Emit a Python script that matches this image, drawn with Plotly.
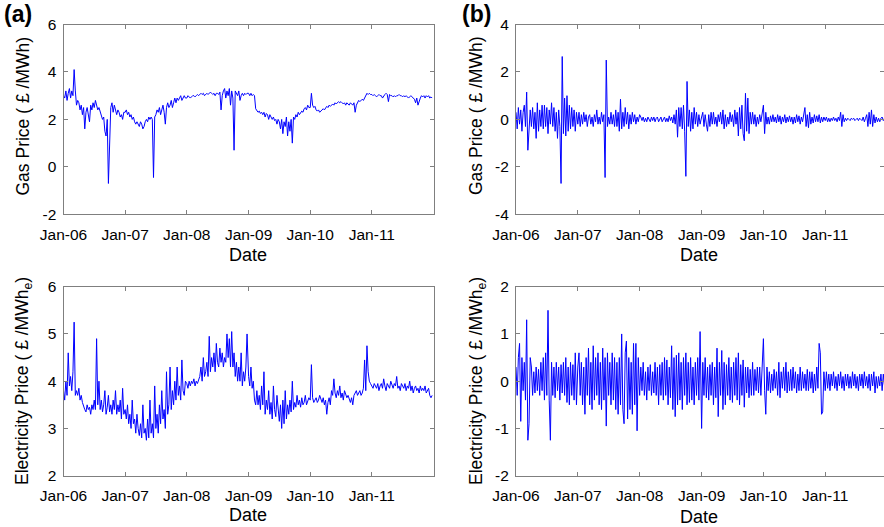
import pandas as pd
import plotly.graph_objects as go

FONT = "Liberation Sans, Arial, sans-serif"
W, H = 884, 527

YEARS = [2006, 2007, 2008, 2009, 2010, 2011]
X_TICK_DATES = ["2006-01-01", "2007-01-01", "2008-01-01", "2009-01-01", "2010-01-01", "2011-01-01"]
X_TICK_LABELS = ["Jan-06", "Jan-07", "Jan-08", "Jan-09", "Jan-10", "Jan-11"]

# ---------------- (a) Gas price, weekly readings (GBP/MWh) ----------------
gas_a_2006 = [3.0, 2.9, 3.2, 2.8, 3.1, 3.3, 2.9, 3.2, 3.0, 4.1, 3.2, 2.6, 2.8, 2.7, 2.4, 2.6, 2.2, 2.5,
              1.6, 2.3, 2.5, 2.1, 1.9, 2.6, 2.4, 2.7, 2.5, 2.8, 2.6, 2.4, 2.5, 2.3, 2.2, 2.0, 2.1,
              1.5, 1.3, 2.0, -0.7, 1.5, 2.5, 2.7, 2.3, 2.6, 2.4, 2.2, 2.4, 2.3, 2.1, 2.2, 2.0, 2.3]
gas_a_2007 = [2.3, 2.4, 2.2, 2.3, 2.1, 2.2, 2.0, 2.1, 1.9, 1.8, 1.9, 1.8, 1.7, 1.9, 1.8, 1.6, 1.7, 1.9,
              2.0, 1.9, 2.1, 2.0, 2.1, 2.0, -0.45, 2.1, 2.2, 2.4, 2.3, 2.5, 2.2, 2.4, 2.6, 2.3, 1.8,
              2.5, 2.7, 2.5, 2.6, 2.8, 2.5, 2.7, 2.9, 2.7, 2.9, 2.8, 2.9, 3.0, 2.8, 2.9, 3.0, 2.9]
gas_a_2008 = [2.9, 3.0, 2.95, 2.9, 2.95, 3.0, 3.0, 2.95, 3.0, 3.05, 3.0, 3.05, 3.1, 3.05, 3.1, 3.0, 3.05, 3.1,
              3.05, 3.1, 3.15, 3.1, 3.05, 3.1, 3.0, 3.1, 3.1, 3.05, 3.15, 2.4, 3.0, 3.2, 3.3, 2.9, 3.2,
              3.0, 3.3, 2.6, 3.2, 2.9, 0.7, 3.2, 3.1, 3.0, 3.2, 2.8, 3.0, 3.1, 3.0, 3.1, 3.05, 3.1]
gas_a_2009 = [3.1, 3.0, 3.1, 3.0, 3.05, 3.0, 2.45, 2.35, 2.3, 2.35, 2.25, 2.3, 2.2, 2.3, 2.1, 2.25, 2.2, 2.0,
              2.2, 2.1, 2.0, 2.1, 1.95, 2.0, 1.8, 2.0, 1.9, 1.6, 2.0, 1.4, 1.9, 1.7, 2.1, 1.3, 1.9,
              1.5, 2.0, 1.0, 2.1, 2.0, 2.2, 2.1, 2.3, 2.2, 2.3, 2.35, 2.3, 2.45, 2.5, 2.4, 2.6, 2.5]
gas_a_2010 = [2.5, 3.1, 2.6, 2.5, 2.55, 2.4, 2.35, 2.4, 2.3, 2.35, 2.4, 2.45, 2.4, 2.5, 2.55, 2.5, 2.6, 2.55,
              2.6, 2.65, 2.6, 2.7, 2.65, 2.7, 2.75, 2.7, 2.75, 2.7, 2.65, 2.7, 2.6, 2.7, 2.65, 2.6, 2.7,
              2.65, 2.6, 2.7, 2.3, 2.6, 2.7, 2.8, 2.75, 2.8, 2.85, 2.8, 2.9, 3.0, 3.1, 3.05, 3.1, 3.05]
gas_a_2011 = [3.05, 3.0, 3.05, 3.0, 2.95, 3.0, 3.05, 3.0, 3.0, 2.9, 3.0, 3.05, 3.1, 3.05, 2.75, 3.05, 3.0, 3.0,
              2.95, 3.0, 2.95, 3.0, 3.0, 3.05, 3.0, 3.0, 2.95, 3.0, 2.95, 3.0, 2.95, 2.9, 2.95, 3.0, 2.95,
              2.9, 2.85, 2.7, 2.9, 2.6, 2.8, 2.9, 3.0, 2.95, 3.0, 2.9, 3.0, 2.95, 3.0, 2.9, 2.95, 2.9]

# ---------------- (a) Electricity price, weekly readings ----------------
elec_a_2006 = [3.8, 3.6, 4.0, 3.7, 4.6, 3.9, 4.1, 3.8, 4.2, 5.25, 3.7, 3.8, 3.7, 3.85, 3.6, 3.7, 3.55, 3.45,
               3.4, 3.35, 3.5, 3.4, 3.45, 3.3, 3.5, 3.4, 3.6, 3.4, 4.9, 3.5, 4.0, 3.4, 3.6, 3.35, 3.5,
               3.8, 3.3, 3.45, 3.7, 3.35, 3.5, 3.3, 3.6, 3.4, 3.8, 3.3, 3.5, 3.35, 3.6, 3.2, 3.85, 3.3]
elec_a_2007 = [3.4, 3.2, 3.5, 3.1, 3.3, 3.0, 3.6, 3.1, 3.2, 2.9, 3.3, 3.0, 2.85, 3.1, 2.8, 3.5, 2.9, 3.0,
               2.75, 3.2, 2.8, 3.6, 2.9, 3.1, 2.8, 3.9, 3.0, 3.3, 2.9, 3.5, 3.1, 3.8, 3.2, 3.4, 3.0,
               4.2, 3.3, 3.5, 4.3, 3.4, 3.8, 3.5, 4.0, 3.6, 4.3, 3.7, 3.9, 3.6, 4.45, 3.8, 3.7, 4.0]
elec_a_2008 = [3.95, 3.85, 4.0, 3.9, 4.0, 3.95, 4.05, 3.9, 4.0, 3.95, 4.05, 4.1, 4.3, 4.0, 4.5, 4.1, 4.2, 4.4,
               4.1, 4.95, 4.2, 4.5, 4.3, 4.6, 4.2, 4.8, 4.4, 4.3, 4.7, 4.4, 4.6, 4.3, 4.5, 4.4, 5.0,
               4.5, 4.9, 4.3, 5.05, 4.3, 4.6, 4.1, 4.4, 4.0, 4.3, 4.0, 4.6, 3.9, 4.2, 4.0, 4.3, 5.0]
elec_a_2009 = [4.1, 3.9, 4.3, 3.85, 4.0, 3.6, 3.5, 3.8, 3.5, 3.7, 3.4, 3.9, 3.5, 4.2, 3.3, 3.6, 3.4, 3.8,
               3.3, 3.55, 3.2, 3.9, 3.4, 3.25, 3.7, 3.3, 3.15, 3.5, 3.0, 3.6, 3.1, 3.8, 3.2, 3.5, 3.3,
               3.6, 3.35, 4.0, 3.4, 3.55, 3.45, 3.7, 3.5, 3.6, 3.45, 3.65, 3.5, 3.55, 3.7, 3.5, 3.6, 3.65]
elec_a_2010 = [3.6, 4.35, 3.65, 3.55, 3.6, 3.65, 3.55, 3.6, 3.7, 3.6, 3.55, 3.65, 3.5, 3.6, 3.3, 3.55, 3.65, 3.5,
               3.8, 3.7, 4.05, 3.75, 3.65, 3.8, 3.7, 3.9, 3.65, 3.75, 3.6, 3.8, 3.7, 3.65, 3.7, 3.6, 3.55,
               3.65, 3.5, 3.7, 3.75, 3.8, 3.7, 3.75, 3.8, 3.7, 3.75, 3.85, 4.45, 3.8, 4.75, 4.2, 4.0, 3.95]
elec_a_2011 = [3.9, 3.85, 3.95, 3.9, 3.85, 3.95, 3.8, 3.9, 3.95, 3.85, 4.05, 3.9, 3.8, 3.95, 3.9, 3.85, 4.0, 3.9,
               3.85, 3.95, 3.9, 4.1, 3.85, 3.9, 3.8, 3.95, 3.9, 3.85, 3.95, 3.8, 3.9, 3.85, 4.0, 3.8, 3.9,
               3.75, 3.85, 3.9, 3.8, 3.85, 3.75, 3.9, 3.8, 3.85, 3.8, 3.9, 3.75, 3.8, 3.85, 3.7, 3.65, 3.7]

# ---------------- (b) Gas price changes, weekly readings ----------------
gas_b_2006 = [0.3, -0.4, 0.5, -0.2, 0.4, -0.5, 0.3, 0.6, -0.3, 1.15, -1.3, -0.6, 0.4, -0.3, 0.5, -0.4, 0.3, -0.8,
              0.7, -0.5, 0.4, -0.3, 0.6, -0.4, 0.6, -0.3, 0.5, -0.6, 0.4, -0.2, 0.7, -0.3, 0.5, -0.5, 0.3,
              -0.8, 0.4, -0.3, -2.7, 2.65, -0.6, 0.9, -0.7, 1.0, -0.5, 0.6, -0.4, 0.5, -0.3, 0.4, -0.5, 0.3]
gas_b_2007 = [-0.2, 0.3, -0.3, 0.2, -0.2, 0.3, -0.1, 0.2, -0.3, 0.1, 0.2, -0.2, 0.1, -0.3, 0.2, -0.1, 0.4, -0.2,
              0.1, -0.2, 0.3, -0.1, 0.2, -2.45, 2.5, -0.3, 0.1, -0.2, 0.3, -0.2, 0.2, -0.3, 0.4, -0.3, 0.3,
              -0.5, 0.85, -0.4, 0.3, -0.3, 0.5, -0.2, 0.3, -0.4, 0.2, -0.2, 0.3, -0.1, 0.2, -0.2, 0.1, -0.1]
gas_b_2008 = [0.2, 0.1, -0.05, 0.1, -0.1, 0.05, -0.1, 0.1, 0.0, -0.1, 0.1, -0.05, 0.1, -0.1, 0.05, 0.1, -0.1, 0.05,
              0.1, -0.1, 0.0, 0.1, -0.1, 0.05, -0.1, 0.15, -0.05, 0.1, -0.15, 0.2, -0.2, 0.4, -0.75, 0.5, -0.3,
              0.5, -0.4, 0.6, -0.5, -2.4, 1.6, -0.3, 0.4, -0.5, 0.3, -0.4, 0.5, -0.2, 0.3, -0.3, 0.2, -0.2]
gas_b_2009 = [0.1, 0.3, -0.3, 0.2, -0.2, -0.5, 0.2, -0.3, 0.3, -0.2, 0.3, -0.2, 0.1, -0.3, 0.2, -0.1, 0.3, -0.2,
              0.4, -0.4, 0.2, -0.3, 0.1, -0.2, 0.3, -0.1, 0.2, -0.3, 0.4, -0.2, 0.3, -0.7, 0.5, -0.4, 0.6,
              -0.6, -0.9, 1.1, -0.5, 0.9, -0.6, 0.3, -0.2, 0.3, -0.2, 0.2, -0.3, 0.1, -0.2, 0.2, -0.1, 0.3]
gas_b_2010 = [0.6, -0.6, 0.3, -0.2, 0.1, -0.2, 0.15, -0.1, 0.2, -0.1, 0.1, -0.15, 0.2, -0.1, 0.15, -0.2, 0.1, -0.1,
              0.2, -0.15, 0.1, -0.1, 0.15, -0.1, 0.1, -0.2, 0.1, -0.15, 0.2, -0.1, 0.15, -0.2, 0.1, -0.1, 0.2,
              0.5, -0.3, 0.2, -0.35, 0.3, -0.2, 0.1, -0.15, 0.2, -0.1, 0.15, -0.1, 0.2, -0.15, 0.1, -0.1, 0.1]
gas_b_2011 = [-0.05, 0.1, -0.1, 0.05, -0.1, 0.05, -0.05, 0.1, -0.05, 0.05, -0.1, 0.1, -0.05, 0.3, -0.3, 0.2, -0.1, 0.05,
              -0.05, 0.05, 0.0, -0.05, 0.05, 0.0, 0.05, -0.05, 0.0, 0.05, -0.05, 0.05, 0.0, -0.05, 0.1, -0.1, 0.05,
              0.2, -0.3, 0.3, -0.2, 0.4, -0.3, 0.2, -0.15, 0.1, -0.1, 0.05, -0.1, 0.05, 0.1, -0.05, 0.05, -0.1]

# ---------------- (b) Electricity price changes, weekly readings ----------------
elec_b_2006 = [0.3, -0.3, 0.5, 0.8, -0.85, 0.5, -0.2, 0.4, -0.4, 1.3, -1.25, -0.9, 0.5, 0.3, -0.3, 0.2, -0.25, 0.3,
               -0.2, 0.25, -0.3, 0.4, -0.2, 0.5, -0.4, 0.6, -0.3, 1.5, -0.4, -1.25, 0.4, -0.3, 0.3, -0.35, 0.4,
               -0.2, 0.3, -0.4, 0.35, -0.25, 0.4, -0.3, 0.5, -0.45, 0.3, -0.5, 0.4, -0.3, 0.35, -0.4, 0.6, -0.5]
elec_b_2007 = [0.3, 0.6, -0.3, 0.4, -0.5, 0.3, -0.7, 0.5, -0.3, 0.7, -0.5, 0.4, -0.6, 0.75, -0.4, 0.5, -0.3, 0.6,
               -0.5, 0.4, -0.6, 0.7, -0.4, 0.5, -0.95, 0.6, -0.3, 0.4, -0.5, 0.6, -0.4, 0.5, -0.6, 0.4, -0.7,
               0.5, -0.5, 1.0, -0.6, -0.9, 0.6, 0.85, -0.8, 0.5, -0.6, 0.4, -0.7, 0.8, -0.5, 0.8, -1.05, 0.5]
elec_b_2008 = [-0.3, 0.3, -0.2, 0.4, -0.3, 0.2, -0.4, 0.3, -0.2, 0.35, -0.3, 0.2, -0.25, 0.4, -0.3, 0.3, -0.5, 0.35,
               -0.3, 0.4, -0.4, 0.5, -0.3, 0.45, -0.5, 0.3, -0.35, 0.75, -0.6, 0.5, -0.75, 0.55, -0.5, 0.6, -0.4,
               0.4, -0.6, 0.5, -0.3, 0.6, -0.5, 0.4, -0.45, 0.5, -0.4, 0.3, -0.5, 0.4, -0.3, 0.5, -0.4, 1.05]
elec_b_2009 = [-1.0, 0.4, -0.3, 0.5, -0.35, 0.3, -0.4, 0.35, -0.3, 0.4, -0.5, 0.3, -0.35, 0.7, -0.75, 0.4, -0.3, 0.65,
               -0.6, 0.4, -0.5, 0.35, -0.3, 0.5, -0.4, 0.3, -0.45, 0.4, -0.3, 0.5, -0.4, 0.6, -0.5, 0.35, -0.3,
               0.45, -0.55, 0.3, -0.25, 0.3, -0.35, 0.25, -0.3, 0.4, -0.3, 0.25, -0.2, 0.3, -0.25, 0.3, -0.3, 0.2]
elec_b_2010 = [0.9, -0.2, -0.7, 0.3, -0.2, 0.2, -0.25, 0.15, -0.2, 0.25, -0.15, 0.2, -0.3, 0.4, -0.35, 0.2, -0.15, 0.3,
               -0.2, 0.4, -0.25, 0.2, -0.2, 0.25, -0.2, 0.3, -0.15, 0.2, -0.25, 0.15, -0.2, 0.3, -0.2, 0.2, -0.15,
               0.15, -0.2, 0.25, -0.2, 0.2, -0.15, 0.2, -0.25, 0.15, -0.2, 0.3, -0.15, 0.8, 0.6, -0.7, -0.65, 0.2]
elec_b_2011 = [-0.2, 0.2, -0.15, 0.15, -0.2, 0.15, -0.1, 0.2, -0.15, 0.1, -0.2, 0.15, -0.1, 0.2, -0.15, 0.1, -0.2, 0.15,
               -0.1, 0.15, -0.15, 0.1, -0.15, 0.2, -0.1, 0.15, -0.15, 0.1, -0.2, 0.15, -0.1, 0.15, -0.15, 0.2, -0.1,
               0.1, -0.15, 0.15, -0.2, 0.15, -0.1, 0.2, -0.25, 0.1, -0.15, 0.1, -0.1, 0.15, -0.2, 0.15, -0.1, 0.1]


def weekly_series(year_blocks):
    xs, ys = [], []
    for year, vals in zip(YEARS, year_blocks):
        start = pd.Timestamp(year=year, month=1, day=1)
        for i, v in enumerate(vals):
            xs.append((start + pd.Timedelta(days=7 * i)).strftime("%Y-%m-%d"))
            ys.append(v)
    return xs, ys


series = [
    ("x", "y", [gas_a_2006, gas_a_2007, gas_a_2008, gas_a_2009, gas_a_2010, gas_a_2011]),
    ("x2", "y2", [gas_b_2006, gas_b_2007, gas_b_2008, gas_b_2009, gas_b_2010, gas_b_2011]),
    ("x3", "y3", [elec_a_2006, elec_a_2007, elec_a_2008, elec_a_2009, elec_a_2010, elec_a_2011]),
    ("x4", "y4", [elec_b_2006, elec_b_2007, elec_b_2008, elec_b_2009, elec_b_2010, elec_b_2011]),
]

fig = go.Figure()
for xa, ya, blocks in series:
    xs, ys = weekly_series(blocks)
    fig.add_trace(go.Scatter(x=xs, y=ys, xaxis=xa, yaxis=ya, mode="lines",
                             line=dict(color="#0000ff", width=1), showlegend=False,
                             hoverinfo="skip"))

FRAME = "#7f7f7f"


def xstyle(domain, anchor, end):
    return dict(domain=domain, anchor=anchor, type="date", range=["2006-01-01", end],
                tickmode="array", tickvals=X_TICK_DATES, ticktext=X_TICK_LABELS,
                showline=True, linecolor=FRAME, linewidth=1, mirror="ticks",
                ticks="inside", ticklen=4, tickcolor=FRAME, showgrid=False, zeroline=False,
                tickfont=dict(family=FONT, size=15.5, color="black"), ticklabelstandoff=6)


def ystyle(domain, anchor, rng, vals):
    return dict(domain=domain, anchor=anchor, range=rng, tickmode="array", tickvals=vals,
                ticktext=[str(v) for v in vals],
                showline=True, linecolor=FRAME, linewidth=1, mirror="ticks",
                ticks="inside", ticklen=4, tickcolor=FRAME, showgrid=False, zeroline=False,
                tickfont=dict(family=FONT, size=15.5, color="black"), ticklabelstandoff=3)


XL = [63.5 / W, 433.5 / W]
XR = [516 / W, 1.0]
YT = [1 - 214.3 / H, 1 - 24.5 / H]
YB = [1 - 475.7 / H, 1 - 286.7 / H]

fig.update_layout(
    width=W, height=H, margin=dict(l=0, r=0, t=0, b=0, autoexpand=False),
    paper_bgcolor="white", plot_bgcolor="white",
    font=dict(family=FONT, color="black"),
    xaxis=xstyle(XL, "y", "2012-01-01"),
    yaxis=ystyle(YT, "x", [-2, 6], [-2, 0, 2, 4, 6]),
    xaxis2=xstyle(XR, "y2", "2011-12-14"),
    yaxis2=ystyle(YT, "x2", [-4, 4], [-4, -2, 0, 2, 4]),
    xaxis3=xstyle(XL, "y3", "2012-01-01"),
    yaxis3=ystyle(YB, "x3", [2, 6], [2, 3, 4, 5, 6]),
    xaxis4=xstyle(XR, "y4", "2011-12-14"),
    yaxis4=ystyle(YB, "x4", [-2, 2], [-2, -1, 0, 1, 2]),
)


def ann(text, x, y, size, angle=0, bold=False):
    if bold:
        text = "<b>" + text + "</b>"
    fig.add_annotation(text=text, x=x / W, y=1 - y / H, xref="paper", yref="paper",
                       xanchor="center", yanchor="middle", showarrow=False, textangle=angle,
                       font=dict(family=FONT, size=size, color="black"))


ann("(a)", 18, 14, 23, bold=True)
ann("(b)", 476, 14, 23, bold=True)
ann("Date", 248, 255, 18)
ann("Date", 699, 255, 18)
ann("Date", 248, 515, 18)
ann("Date", 699, 517, 18)
ann("Gas Price ( £ /MWh)", 22.5, 116, 17.5, angle=-90)
ann("Gas Price ( £ /MWh)", 476, 116, 17.5, angle=-90)
ann("Electricity Price ( £ /MWh<sub>e</sub>)", 24, 381, 17.5, angle=-90)
ann("Electricity Price ( £ /MWh<sub>e</sub>)", 478, 381, 17.5, angle=-90)

fig.write_html("out.html", config={"displayModeBar": False},
               post_script="document.body.style.margin='0';document.body.style.overflow='hidden';")
